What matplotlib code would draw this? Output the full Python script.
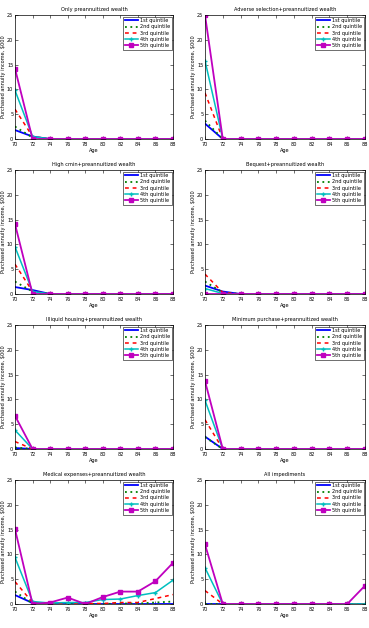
import matplotlib
matplotlib.use("Agg")
import matplotlib.pyplot as plt

ages = [70, 72, 74, 76, 78, 80, 82, 84, 86, 88]
quintiles = ["1st quintile", "2nd quintile", "3rd quintile", "4th quintile", "5th quintile"]

titles = [
    "Only preannuitized wealth",
    "Adverse selection+preannuitized wealth",
    "High cmin+preannuitized wealth",
    "Bequest+preannuitized wealth",
    "Illiquid housing+preannuitized wealth",
    "Minimum purchase+preannuitized wealth",
    "Medical expenses+preannuitized wealth",
    "All impediments",
]

z8 = [0, 0, 0, 0, 0, 0, 0, 0]

only_pre = [
    [1.8, 0.5, 0] + z8[:7],
    [2.5, 0.3, 0] + z8[:7],
    [6.0, 0.5, 0] + z8[:7],
    [9.8, 0.5, 0] + z8[:7],
    [14.2, 0.0, 0] + z8[:7],
]
adverse = [
    [3.1, 0] + z8,
    [3.7, 0] + z8,
    [9.3, 0] + z8,
    [15.8, 0] + z8,
    [25.0, 0] + z8,
]
high_cmin = [
    [1.4, 0.8, 0] + z8[:7],
    [2.5, 0.5, 0] + z8[:7],
    [6.0, 0.5, 0] + z8[:7],
    [9.5, 0.5, 0] + z8[:7],
    [14.1, 0.0, 0] + z8[:7],
]
bequest = [
    [1.7, 0.5, 0] + z8[:7],
    [2.5, 0.3, 0] + z8[:7],
    [4.0, 0.3, 0] + z8[:7],
    [1.1, 0.1, 0] + z8[:7],
    [0.0, 0.0, 0] + z8[:7],
]
housing = [
    [0.2, 0] + z8,
    [0.3, 0] + z8,
    [1.5, 0] + z8,
    [3.8, 0] + z8,
    [6.7, 0] + z8,
]
min_purchase = [
    [2.5, 0] + z8,
    [2.4, 0] + z8,
    [5.9, 0] + z8,
    [9.8, 0] + z8,
    [13.7, 0] + z8,
]
medical = [
    [1.8, 0.2, 0.0, 0.0, 0.0, 0.0, 0.0, 0.0, 0.0, 0.0],
    [2.5, 0.1, 0.0, 0.0, 0.0, 0.0, 0.1, 0.1, 0.3, 0.5],
    [4.5, 0.3, 0.1, 0.1, 0.1, 0.1, 0.3, 0.3, 1.1, 1.9],
    [9.4, 0.5, 0.2, 0.3, 0.3, 0.9, 1.0, 1.7, 2.3, 4.8],
    [15.1, 0.0, 0.3, 1.3, 0.0, 1.4, 2.5, 2.5, 4.6, 8.3],
]
all_imp = [
    [0.0, 0] + z8,
    [0.0, 0] + z8,
    [2.7, 0] + z8,
    [7.3, 0] + z8,
    [12.0, 0, 0, 0, 0, 0, 0, 0, 0, 3.7],
]

panels = [only_pre, adverse, high_cmin, bequest, housing, min_purchase, medical, all_imp]

colors = ["#0000ff", "#008000", "#ff0000", "#00bfbf", "#bf00bf"]
styles = [
    dict(linestyle="-", lw=1.3),
    dict(linestyle=(0, (1, 2)), lw=1.3),
    dict(linestyle=(0, (2.5, 2.5)), lw=1.1),
    dict(linestyle="-", lw=1.1, marker="+", markersize=2.5),
    dict(linestyle="-", lw=1.3, marker="s", markersize=2.2),
]

W, H = 369, 628
fig = plt.figure(figsize=(W / 100, H / 100), dpi=100)

lefts = [15, 205]
width_px = [158, 160]
tops = [15, 170, 325, 480]
hpx = 124
fs = 3.6

for i, (title, data) in enumerate(zip(titles, panels)):
    r, c = divmod(i, 2)
    l = lefts[c] / W
    b = 1 - (tops[r] + hpx) / H
    ax = fig.add_axes([l, b, width_px[c] / W, hpx / H])
    for q in range(5):
        ax.plot(ages, data[q], color=colors[q], label=quintiles[q], **styles[q])
    ax.set_xlim(70, 88)
    ax.set_ylim(0, 25)
    ax.set_xticks(ages)
    ax.set_yticks([0, 5, 10, 15, 20, 25])
    ax.tick_params(labelsize=fs, length=2, width=0.4, direction="in",
                   top=True, right=True)
    ax.tick_params(axis="x", pad=2.5)
    ax.tick_params(axis="y", pad=1.2)
    for s in ax.spines.values():
        s.set_linewidth(0.5)
    ax.set_title(title, fontsize=fs, pad=3)
    ax.set_xlabel("Age", fontsize=fs, labelpad=0.5)
    ax.set_ylabel("Purchased annuity income, $000", fontsize=fs, labelpad=1)
    leg = ax.legend(loc="upper right", fontsize=fs, handlelength=2.6, borderpad=0.3,
                    labelspacing=0.25, handletextpad=0.4, fancybox=False,
                    framealpha=1, borderaxespad=0.3)
    leg.get_frame().set_edgecolor("black")
    leg.get_frame().set_linewidth(0.4)

fig.savefig("out.png", dpi=100)
